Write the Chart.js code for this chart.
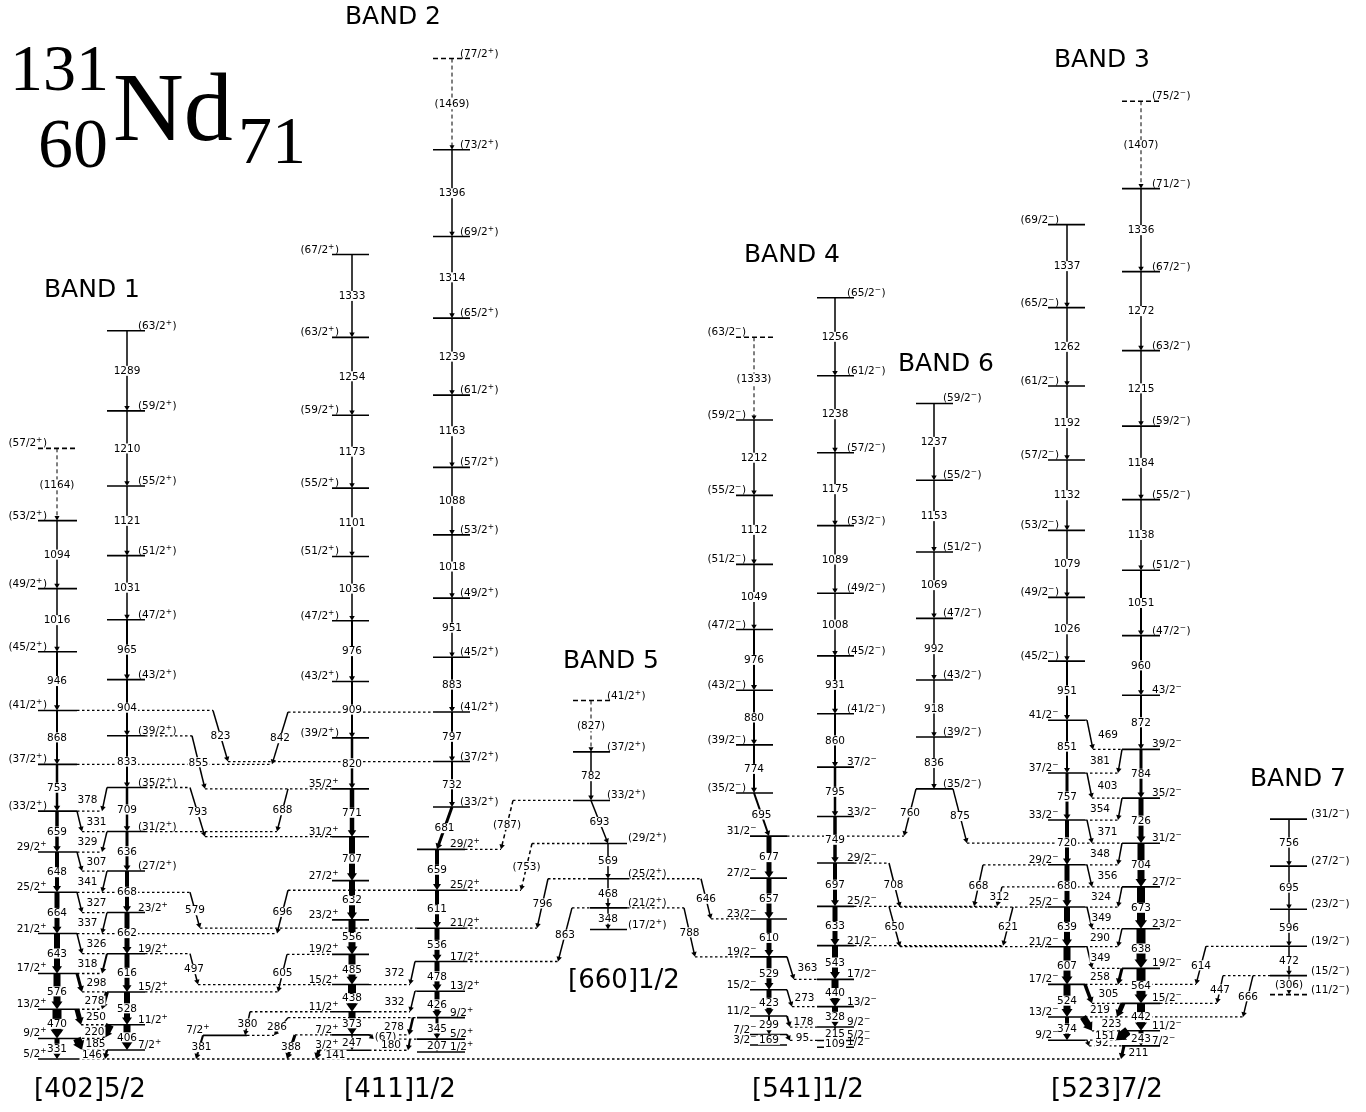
<!DOCTYPE html>
<html>
<head>
<meta charset="utf-8">
<title>131Nd level scheme</title>
<script src="https://cdn.jsdelivr.net/npm/chart.js@4.4.1/dist/chart.umd.min.js"></script>
<style>
  html, body { margin: 0; padding: 0; background: #fff; }
  #wrap { width: 1366px; height: 1112px; }
</style>
</head>
<body>
<div id="wrap"><canvas id="scheme"></canvas></div>
<script>
// energy axis (keV), 0 = 5/2+ ground state
const Y_MIN = -853;
const Y_MAX = 17050;
const KEV_PER_PX = (Y_MAX - Y_MIN) / 1112;

// ---- Band 1  [402]5/2 ----
const b1aSpins = [5, 9, 13, 17, 21, 25, 29, 33, 37, 41, 45, 49, 53, 57];
const b1aLevels = [0, 331, 801, 1377, 2020, 2684, 3332, 3991, 4744, 5612, 6558, 7574, 8668, 9832];
const b1aGammas = [331, 470, 576, 643, 664, 648, 659, 753, 868, 946, 1016, 1094, 1164];
const b1bSpins = [7, 11, 15, 19, 23, 27, 31, 35, 39, 43, 47, 51, 55, 59, 63];
const b1bLevels = [146, 552, 1080, 1696, 2358, 3026, 3662, 4371, 5204, 6108, 7073, 8104, 9225, 10435, 11724];
const b1bGammas = [406, 528, 616, 662, 668, 636, 709, 833, 904, 965, 1031, 1121, 1210, 1289];

// ---- Band 2  [411]1/2 ----
const b2aSpins = [3, 7, 11, 15, 19, 23, 27, 31, 35, 39, 43, 47, 51, 55, 59, 63, 67];
const b2aLevels = [141, 388, 761, 1199, 1684, 2240, 2872, 3579, 4350, 5170, 6079, 7055, 8091, 9192, 10365, 11619, 12952];
const b2aGammas = [247, 373, 438, 485, 556, 632, 707, 771, 820, 909, 976, 1036, 1101, 1173, 1254, 1333];
const b2bSpins = [1, 5, 9, 13, 17, 21, 25, 29, 33, 37, 41, 45, 49, 53, 57, 61, 65, 69, 73, 77];
const b2bLevels = [114, 321, 666, 1092, 1570, 2106, 2717, 3376, 4057, 4789, 5586, 6469, 7420, 8438, 9526, 10689, 11928, 13242, 14638, 16107];
const b2bGammas = [207, 345, 426, 478, 536, 611, 659, 681, 732, 797, 883, 951, 1018, 1088, 1163, 1239, 1314, 1396, 1469];
const b2cSpins = [7];
const b2cLevels = [381];

// ---- Band 5  [660]1/2 ----
const b5Spins = [17, 21, 25, 29, 33, 37, 41];
const b5Levels = [2085, 2433, 2902, 3470, 4163, 4945, 5772];
const b5Gammas = [348, 468, 569, 693, 782, 827];

// ---- Band 4  [541]1/2 ----
const b4aSpins = [3, 7, 11, 15, 19, 23, 27, 31, 35, 39, 43, 47, 51, 55, 59, 63];
const b4aLevels = [225, 394, 693, 1116, 1645, 2255, 2912, 3589, 4284, 5058, 5938, 6914, 7963, 9075, 10287, 11620];
const b4aGammas = [169, 299, 423, 529, 610, 657, 677, 695, 774, 880, 976, 1049, 1112, 1212, 1333];
const b4bSpins = [1, 5, 9, 13, 17, 21, 25, 29, 33, 37, 41, 45, 49, 53, 57, 61, 65];
const b4bLevels = [190, 299, 515, 843, 1282, 1825, 2458, 3155, 3904, 4699, 5559, 6490, 7498, 8587, 9762, 11000, 12256];
const b4bGammas = [109, 215, 328, 440, 543, 633, 697, 749, 795, 860, 931, 1008, 1089, 1175, 1238, 1256];

// ---- Band 6 ----
const b6Spins = [35, 39, 43, 47, 51, 55, 59];
const b6Levels = [4349, 5185, 6103, 7095, 8164, 9317, 10554];
const b6Gammas = [836, 918, 992, 1069, 1153, 1237];

// ---- Band 3  [523]7/2 ----
const b3aSpins = [9, 13, 17, 21, 25, 29, 33, 37, 41, 45, 49, 53, 57, 61, 65, 69];
const b3aLevels = [303, 677, 1201, 1808, 2447, 3127, 3847, 4604, 5455, 6406, 7432, 8511, 9643, 10835, 12097, 13434];
const b3aGammas = [374, 524, 607, 639, 680, 720, 757, 851, 951, 1026, 1079, 1132, 1192, 1262, 1337];
const b3bSpins = [7, 11, 15, 19, 23, 27, 31, 35, 39, 43, 47, 51, 55, 59, 63, 67, 71, 75];
const b3bLevels = [211, 454, 896, 1460, 2098, 2771, 3475, 4201, 4985, 5857, 6817, 7868, 9006, 10190, 11405, 12677, 14013, 15420];
const b3bGammas = [243, 442, 564, 638, 673, 704, 726, 784, 872, 960, 1051, 1138, 1184, 1215, 1272, 1336, 1407];

// ---- Band 7 ----
const b7Spins = [11, 15, 19, 23, 27, 31];
const b7Levels = [1037, 1343, 1815, 2411, 3106, 3862];
const b7Gammas = [306, 472, 596, 695, 756];

// parity, highest firm spin (2J), tentative (dashed) levels
const columns = {
  b1a: { spins: b1aSpins, levels: b1aLevels, gammas: b1aGammas, parity: "+", firmMax: 29, dashed: [57] },
  b1b: { spins: b1bSpins, levels: b1bLevels, gammas: b1bGammas, parity: "+", firmMax: 23, dashed: [] },
  b2a: { spins: b2aSpins, levels: b2aLevels, gammas: b2aGammas, parity: "+", firmMax: 35, dashed: [] },
  b2b: { spins: b2bSpins, levels: b2bLevels, gammas: b2bGammas, parity: "+", firmMax: 29, dashed: [77] },
  b2c: { spins: b2cSpins, levels: b2cLevels, gammas: [], parity: "+", firmMax: 7, dashed: [] },
  b5: { spins: b5Spins, levels: b5Levels, gammas: b5Gammas, parity: "+", firmMax: 0, dashed: [41] },
  b4a: { spins: b4aSpins, levels: b4aLevels, gammas: b4aGammas, parity: "\u2212", firmMax: 31, dashed: [63] },
  b4b: { spins: b4bSpins, levels: b4bLevels, gammas: b4bGammas, parity: "\u2212", firmMax: 37, dashed: [] },
  b6: { spins: b6Spins, levels: b6Levels, gammas: b6Gammas, parity: "\u2212", firmMax: 0, dashed: [] },
  b3a: { spins: b3aSpins, levels: b3aLevels, gammas: b3aGammas, parity: "\u2212", firmMax: 41, dashed: [] },
  b3b: { spins: b3bSpins, levels: b3bLevels, gammas: b3bGammas, parity: "\u2212", firmMax: 43, dashed: [75] },
  b7: { spins: b7Spins, levels: b7Levels, gammas: b7Gammas, parity: "\u2212", firmMax: 0, dashed: [11] },
};

// linking transitions: from column, 2J, to column, 2J, label
const linkData = [
  ["b1b", 7, "b1a", 5, "146"], ["b1a", 9, "b1b", 7, "185"], ["b1b", 11, "b1a", 9, "220"],
  ["b1a", 13, "b1b", 11, "250"], ["b1b", 15, "b1a", 13, "278"], ["b1a", 17, "b1b", 15, "298"],
  ["b1b", 19, "b1a", 17, "318"], ["b1a", 21, "b1b", 19, "326"], ["b1b", 23, "b1a", 21, "337"],
  ["b1a", 25, "b1b", 23, "327"], ["b1b", 27, "b1a", 25, "341"], ["b1a", 29, "b1b", 27, "307"],
  ["b1b", 31, "b1a", 29, "329"], ["b1a", 33, "b1b", 31, "331"], ["b1b", 35, "b1a", 33, "378"],
  ["b1b", 19, "b2a", 15, "497"], ["b2a", 19, "b1b", 15, "605"], ["b1a", 25, "b2b", 21, "579"],
  ["b2b", 25, "b1a", 21, "696"], ["b1b", 35, "b2a", 31, "793"], ["b2a", 35, "b1b", 31, "688"],
  ["b1b", 39, "b2a", 35, "855"], ["b1a", 41, "b2b", 37, "823"], ["b2b", 41, "b1a", 37, "842"],
  ["b2a", 3, "b1a", 5, "141"], ["b2a", 7, "b1a", 5, "388"], ["b2c", 7, "b1a", 5, "381"],
  ["b2a", 11, "b2c", 7, "380"], ["b2b", 9, "b2c", 7, "286"], ["b2a", 7, "b2b", 5, "(67)"],
  ["b2b", 5, "b2a", 3, "180"], ["b2b", 9, "b2a", 7, "278"], ["b2b", 13, "b2a", 11, "332"],
  ["b2b", 17, "b2a", 15, "372"],
  ["b5", 33, "b2b", 29, "(787)"], ["b5", 29, "b2b", 25, "(753)"], ["b5", 25, "b2b", 21, "796"],
  ["b5", 21, "b2b", 17, "863"], ["b5", 25, "b4a", 23, "646"], ["b5", 21, "b4a", 19, "788"],
  ["b4a", 7, "b4b", 5, "95"], ["b4a", 11, "b4b", 9, "178"], ["b4a", 15, "b4b", 13, "273"],
  ["b4a", 19, "b4b", 17, "363"],
  ["b4b", 29, "b3a", 25, "708"], ["b4b", 25, "b3a", 21, "650"], ["b3a", 29, "b4b", 25, "668"],
  ["b3a", 25, "b4b", 21, "621"], ["b3b", 27, "b4b", 25, "312"], ["b6", 35, "b4a", 31, "760"],
  ["b6", 35, "b3b", 31, "875"],
  ["b3a", 9, "b3b", 7, "92"], ["b3b", 7, "b1a", 5, "211"], ["b3b", 11, "b3a", 9, "151"],
  ["b3a", 13, "b3b", 11, "223"], ["b3b", 15, "b3a", 13, "219"], ["b3a", 17, "b3b", 15, "305"],
  ["b3b", 19, "b3a", 17, "258"], ["b3a", 21, "b3b", 19, "349"], ["b3b", 23, "b3a", 21, "290"],
  ["b3a", 25, "b3b", 23, "349"], ["b3b", 27, "b3a", 25, "324"], ["b3a", 29, "b3b", 27, "356"],
  ["b3b", 31, "b3a", 29, "348"], ["b3a", 33, "b3b", 31, "371"], ["b3b", 35, "b3a", 33, "354"],
  ["b3a", 37, "b3b", 35, "403"], ["b3b", 39, "b3a", 37, "381"], ["b3a", 41, "b3b", 39, "469"],
  ["b7", 19, "b3a", 17, "614"], ["b7", 15, "b3b", 15, "447"], ["b7", 15, "b3a", 13, "666"],
];

// ---------------- layout (pixels) ----------------
// x1, x2 of each linking arrow, its line width, label shift
const linkLayout = [
  [107, 105, 2.5, -14], [77, 82, 8, 16], [110, 103, 8, -12],
  [77, 81, 5, 17], [107, 102, 4, -10], [77, 82, 3, 17],
  [107, 102, 2, -17], [77, 82, 1.5, 17], [107, 102, 1.5, -17],
  [77, 82, 1.5, 17], [107, 102, 1.5, -17], [77, 82, 1.5, 17],
  [107, 102, 1.5, -17], [77, 82, 1.5, 17], [107, 102, 1.5, -17],
  [190, 198, 1.5, 0], [287, 278, 1.5, 0], [190, 200, 1.5, 0],
  [288, 277, 1.5, 0], [190, 205, 1.5, 0], [288, 277, 1.5, 0],
  [192, 205, 1.5, 0], [213, 228, 1.5, 0], [288, 272, 1.5, 0],
  [319, 316, 3.5, 18], [295, 287, 3, 0], [203, 196, 2, 2],
  [250, 245, 1.5, 0], [288, 274, 1.5, -4], [369, 374, 1.5, 14],
  [410, 408, 2, -18], [413, 409, 2.5, -17], [415, 410, 1.5, -18],
  [415, 410, 1.5, -18],
  [513, 501, 1.5, 0], [532, 521, 1.5, 0], [548, 537, 1.5, 0],
  [572, 558, 1.5, 0], [701, 711, 1.5, 0], [684, 695, 1.5, 0],
  [787, 790, 2, 14], [787, 790, 2, 15], [787, 792, 1.5, 15],
  [787, 794, 1.5, 17],
  [889, 900, 1.5, -1], [889, 900, 1.5, 0], [983, 974, 1.5, 0],
  [1013, 1003, 1.5, 0], [1002, 997, 1.5, 0], [916, 904, 1.5, 0],
  [953, 967, 1.5, 0],
  [1087, 1089, 1.5, 14], [1124, 1121, 3, 16], [1128, 1116, 9, -17],
  [1083, 1092, 7, 24], [1123, 1117, 5, -20], [1085, 1092, 3.5, 20],
  [1122, 1118, 3, -20], [1087, 1092, 1.5, 11], [1122, 1118, 1.5, -20],
  [1087, 1092, 1.5, 12], [1122, 1118, 1.5, -19], [1087, 1092, 1.5, 18],
  [1122, 1118, 1.5, -20], [1087, 1092, 1.5, 18], [1122, 1118, 1.5, -20],
  [1087, 1092, 1.5, 18], [1122, 1118, 1.5, -20], [1087, 1093, 1.5, 18],
  [1206, 1196, 1.5, 0], [1223, 1217, 1.5, 0], [1253, 1243, 1.5, 0],
];

// in-band line widths (drawn intensity)
const gammaWidths = {
  b1a: [5, 9, 7, 6, 5, 4, 3.5, 2.5, 2, 2, 1.5, 1.5, 1],
  b1b: [7, 6, 5, 5, 4, 3, 2.5, 2, 2, 2, 1.5, 1.5, 1.5, 1.5],
  b2a: [1.5, 7, 8, 7, 7, 6, 6, 4.5, 2.5, 2, 2, 1.5, 1.5, 1.5, 1.5, 1.5],
  b2b: [1, 3, 5, 5, 5, 4, 4, 3, 2, 2, 2, 1.5, 1.5, 1.5, 1.5, 1.5, 1.5, 1.5, 1],
  b2c: [],
  b5: [1.5, 1.5, 1.5, 1.5, 1.5, 1],
  b4a: [1.5, 2, 5, 5, 5, 5, 5, 2, 2, 2, 2, 1.5, 1.5, 1.5, 1],
  b4b: [1, 2, 6, 7, 6, 5, 4, 3.5, 2.5, 2, 2, 1.5, 1.5, 1.5, 1.5, 1.5],
  b6: [1.5, 1.5, 1.5, 1.5, 1.5, 1.5],
  b3a: [4, 7, 7, 6, 5, 4, 3, 2, 2, 1.5, 1.5, 1.5, 1.5, 1.5, 1.5],
  b3b: [5, 8, 9, 9, 8, 7, 5, 3, 2, 2, 2, 1.5, 1.5, 1.5, 1.5, 1.5, 1],
  b7: [1, 1.5, 1.5, 1.5, 1.5],
};

// column centre, level line ends, spin label side / offset
const columnLayout = {
  b1a: { x: 57, l: -19, r: 20, side: "left", lab: 9 },
  b1b: { x: 127, l: -20, r: 18, side: "right", lab: -7 },
  b2a: { x: 352, l: -20, r: 17, side: "left", lab: 7 },
  b2b: { x: 437, l: -20, r: 28, side: "right", lab: -15, hi: { from: 33, x: 452, l: -19, r: 18, lab: -10 } },
  b2c: { x: 225, l: -22, r: 22, side: "left", lab: 7 },
  b5: { x: 608, l: -18, r: 19, side: "right", lab: 1, hi: { from: 33, x: 591, l: -18, r: 19, lab: -3 } },
  b4a: { x: 769, l: -19, r: 18, side: "left", lab: 7, hi: { from: 35, x: 754, l: -18, r: 19, lab: 10 } },
  b4b: { x: 835, l: -18, r: 19, side: "right", lab: -7 },
  b6: { x: 934, l: -18, r: 19, side: "right", lab: -10 },
  b3a: { x: 1067, l: -19, r: 18, side: "left", lab: 11 },
  b3b: { x: 1141, l: -19, r: 19, side: "right", lab: -8 },
  b7: { x: 1289, l: -19, r: 18, side: "right", lab: 4 },
};

const bandTitles = [
  ["BAND 1", 92, 290], ["BAND 2", 393, 17], ["BAND 3", 1102, 60], ["BAND 4", 792, 255],
  ["BAND 5", 611, 661], ["BAND 6", 946, 364], ["BAND 7", 1298, 779],
];
const configLabels = [
  ["[402]5/2", 90, 1090], ["[411]1/2", 400, 1090], ["[541]1/2", 808, 1090],
  ["[523]7/2", 1107, 1090], ["[660]1/2", 624, 981],
];

const SMALL_FONT = "10.5px 'DejaVu Sans', sans-serif";
const SUP_FONT = "7.5px 'DejaVu Sans', sans-serif";

// ---------------- build ----------------
const datasets = [];
const arrows = [];
const gammaLabels = [];
const spinLabels = [];
const ext = {};

function seg(x1, y1, x2, y2, width, dash) {
  datasets.push({
    data: [{ x: x1, y: y1 }, { x: x2, y: y2 }],
    showLine: true,
    borderColor: "#000",
    borderWidth: width,
    borderDash: dash || [],
    borderCapStyle: "butt",
    pointRadius: 0,
    pointHoverRadius: 0,
  });
}

function geom(key, spin) {
  const col = columns[key];
  const lay = columnLayout[key];
  const i = col.spins.indexOf(spin);
  const g = lay.hi && spin >= lay.hi.from ? lay.hi : lay;
  return { E: col.levels[i], x: g.x, a: g.x + g.l, b: g.x + g.r, lab: g.lab, side: lay.side };
}

function arrowSize(w) {
  return { bw: w + 4, h: 4 + w * 0.55 };
}

function addTransition(x1, E1, x2, E2, w, dashed) {
  const dxp = x2 - x1;
  const dyp = (E1 - E2) / KEV_PER_PX;
  const len = Math.hypot(dxp, dyp);
  const cut = Math.min(arrowSize(w).h * 0.7, len * 0.5);
  const f = (len - cut) / len;
  seg(x1, E1, x1 + dxp * f, E1 - (E1 - E2) * f, w, dashed ? [4, 3] : []);
  arrows.push({ x1, E1, x2, E2, w });
}

function extend(key, spin, g, x) {
  const id = key + ":" + spin;
  const e = ext[id] || (ext[id] = { E: g.E, lo: g.a, hi: g.b, a: g.a, b: g.b });
  e.lo = Math.min(e.lo, x);
  e.hi = Math.max(e.hi, x);
}

Object.keys(columns).forEach(function (key) {
  const col = columns[key];
  col.spins.forEach(function (spin) {
    const g = geom(key, spin);
    seg(g.a, g.E, g.b, g.E, 1.6, col.dashed.includes(spin) ? [5, 3] : []);
    spinLabels.push({ spin, g, tentative: spin > col.firmMax, parity: col.parity });
  });
  col.gammas.forEach(function (eg, k) {
    const lo = geom(key, col.spins[k]);
    const hi = geom(key, col.spins[k + 1]);
    const dashed = col.dashed.includes(col.spins[k]) || col.dashed.includes(col.spins[k + 1]);
    addTransition(hi.x, hi.E, lo.x, lo.E, gammaWidths[key][k], dashed);
    gammaLabels.push({
      text: dashed ? "(" + eg + ")" : String(eg),
      x: (hi.x + lo.x) / 2,
      E: (hi.E + lo.E) / 2,
      dx: 0,
    });
  });
});

linkData.forEach(function (lk, n) {
  const [fk, fs, tk, ts, text] = lk;
  const [x1, x2, w, dx] = linkLayout[n];
  const from = geom(fk, fs);
  const to = geom(tk, ts);
  extend(fk, fs, from, x1);
  extend(tk, ts, to, x2);
  addTransition(x1, from.E, x2, to.E, w, text.startsWith("("));
  gammaLabels.push({ text, x: (x1 + x2) / 2, E: (from.E + to.E) / 2, dx });
});

Object.values(ext).forEach(function (e) {
  if (e.lo < e.a - 0.5) seg(e.lo, e.E, e.a, e.E, 1.3, [2.5, 2.5]);
  if (e.hi > e.b + 0.5) seg(e.b, e.E, e.hi, e.E, 1.3, [2.5, 2.5]);
});

// ---------------- drawing extras ----------------
const schemePlugin = {
  id: "scheme",
  beforeDraw(chart) {
    const c = chart.ctx;
    c.save();
    c.fillStyle = "#fff";
    c.fillRect(0, 0, chart.width, chart.height);
    c.restore();
  },
  afterDatasetsDraw(chart) {
    const ctx = chart.ctx;
    const xs = chart.scales.x;
    const ys = chart.scales.y;
    ctx.save();

    // arrow heads
    ctx.fillStyle = "#000";
    arrows.forEach(function (a) {
      const tx = xs.getPixelForValue(a.x2), ty = ys.getPixelForValue(a.E2);
      const sx = xs.getPixelForValue(a.x1), sy = ys.getPixelForValue(a.E1);
      const len = Math.hypot(tx - sx, ty - sy);
      if (len < 1) return;
      const ux = (tx - sx) / len, uy = (ty - sy) / len;
      const s = arrowSize(a.w);
      const h = Math.min(s.h, len * 0.7);
      const half = s.bw / 2;
      const bx = tx - ux * h, by = ty - uy * h;
      ctx.beginPath();
      ctx.moveTo(tx, ty);
      ctx.lineTo(bx - uy * half, by + ux * half);
      ctx.lineTo(bx + uy * half, by - ux * half);
      ctx.closePath();
      ctx.fill();
    });

    // gamma energies
    ctx.font = SMALL_FONT;
    ctx.textAlign = "center";
    ctx.textBaseline = "middle";
    gammaLabels.forEach(function (g) {
      const px = xs.getPixelForValue(g.x) + g.dx;
      const py = ys.getPixelForValue(g.E);
      const w = ctx.measureText(g.text).width;
      ctx.fillStyle = "#fff";
      ctx.fillRect(px - w / 2 - 1, py - 5, w + 2, 10);
      ctx.fillStyle = "#000";
      ctx.fillText(g.text, px, py + 0.5);
    });

    // spin / parity labels
    ctx.textAlign = "left";
    ctx.textBaseline = "alphabetic";
    spinLabels.forEach(function (s) {
      const main = (s.tentative ? "(" : "") + s.spin + "/2";
      const close = s.tentative ? ")" : "";
      ctx.font = SMALL_FONT;
      const w1 = ctx.measureText(main).width;
      const w3 = ctx.measureText(close).width;
      ctx.font = SUP_FONT;
      const w2 = ctx.measureText(s.parity).width + 0.5;
      const total = w1 + w2 + w3;
      const y = ys.getPixelForValue(s.g.E) - 2;
      const x0 = s.g.side === "left" ? s.g.a + s.g.lab - total : s.g.b + s.g.lab;
      ctx.fillStyle = "#000";
      ctx.font = SMALL_FONT;
      ctx.fillText(main, x0, y);
      ctx.font = SUP_FONT;
      ctx.fillText(s.parity, x0 + w1, y - 4);
      ctx.font = SMALL_FONT;
      if (close) ctx.fillText(close, x0 + w1 + w2, y);
    });

    // band names and configurations
    ctx.textAlign = "center";
    ctx.textBaseline = "middle";
    ctx.font = "25px 'DejaVu Sans', sans-serif";
    bandTitles.forEach(function (b) { ctx.fillText(b[0], b[1], b[2]); });
    ctx.font = "26px 'DejaVu Sans', sans-serif";
    configLabels.forEach(function (c) { ctx.fillText(c[0], c[1], c[2]); });

    // nucleus symbol
    ctx.textAlign = "left";
    ctx.textBaseline = "alphabetic";
    ctx.font = "66px 'Liberation Serif', 'Times New Roman', serif";
    ctx.fillText("131", 10, 90);
    ctx.font = "70px 'Liberation Serif', 'Times New Roman', serif";
    ctx.fillText("60", 38, 167);
    ctx.font = "98px 'Liberation Serif', 'Times New Roman', serif";
    ctx.fillText("Nd", 113, 140);
    ctx.font = "68px 'Liberation Serif', 'Times New Roman', serif";
    ctx.fillText("71", 238, 163);

    ctx.restore();
  },
};

new Chart(document.getElementById("scheme"), {
  type: "scatter",
  data: { datasets: datasets },
  options: {
    responsive: true,
    maintainAspectRatio: false,
    animation: false,
    events: [],
    layout: { padding: 0 },
    plugins: {
      legend: { display: false },
      tooltip: { enabled: false },
    },
    scales: {
      x: { type: "linear", min: 0, max: 1366, display: false },
      y: { type: "linear", min: Y_MIN, max: Y_MAX, display: false },
    },
  },
  plugins: [schemePlugin],
});
</script>
</body>
</html>
